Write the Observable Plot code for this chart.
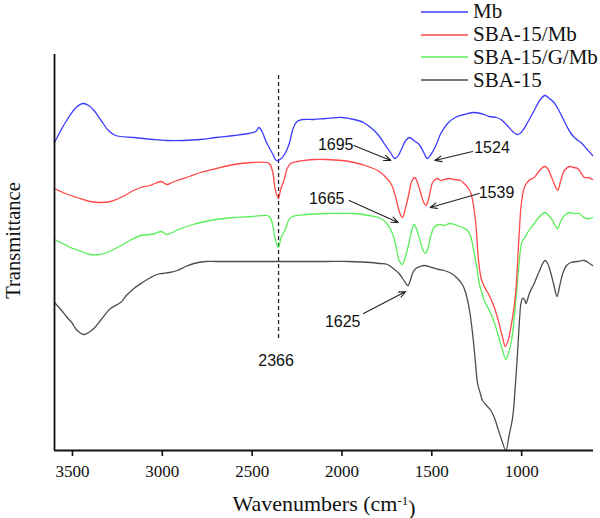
<!DOCTYPE html>
<html>
<head>
<meta charset="utf-8">
<script src="https://cdn.jsdelivr.net/npm/d3@7"></script>
<script src="https://cdn.jsdelivr.net/npm/@observablehq/plot@0.6"></script>
<style>
  html, body { margin: 0; padding: 0; background: #fff; }
  #wrap { position: relative; width: 600px; height: 518px; }
  #legend { position: absolute; left: 421px; top: 0; z-index: 2; font-family: "Liberation Serif", "Times New Roman", serif; font-size: 21px; color: #111; }
  .row { position: absolute; left: 0; height: 24px; display: flex; align-items: center; white-space: nowrap; }
  .row svg { margin-right: 5px; }
</style>
</head>
<body>
<div id="wrap"><div id="legend"></div></div>
<script>
// x tick labels (wavenumbers, cm-1)
const xTicks = [3500, 3000, 2500, 2000, 1500, 1000];
const seriesNames = ["Mb", "SBA-15/Mb", "SBA-15/G/Mb", "SBA-15"];
const seriesColors = ["#3c3cff", "#ff4848", "#5aee5a", "#4d4d4d"];

// [wavenumber, transmittance (arbitrary units)]
const mb = [[3600,308],[3565,320],[3529,331],[3480,343],[3440,347],[3410,345],[3380,340],[3340,330],[3300,320],[3260,315],[3158,313],[3050,311],[2972,310],[2880,310],[2787,311],[2700,313],[2601,315],[2520,317],[2480,319],[2462,323],[2445,319],[2420,308],[2387,297],[2365,290],[2345,291],[2320,296],[2295,306],[2270,323],[2250,329],[2220,331],[2155,331],[2090,332],[2000,333],[1933,331],[1880,328],[1840,323],[1800,316],[1765,307],[1730,298],[1706,292],[1690,294],[1672,300],[1645,310],[1622,313],[1600,310],[1570,306],[1545,298],[1525,292],[1505,296],[1477,305],[1450,317],[1412,327],[1370,333],[1320,336],[1270,338],[1227,337],[1180,334],[1140,333],[1115,331],[1080,325],[1050,319],[1025,316],[1009,317],[990,321],[967,328],[930,340],[900,350],[870,355],[845,352],[820,348],[799,342],[770,332],[745,323],[725,317],[700,312],[670,308],[640,302],[605,295]];

const sbaMb = [[3600,262],[3540,257],[3474,253],[3400,249],[3344,248],[3288,249],[3220,254],[3160,260],[3121,263],[3070,265],[3040,267],[3005,269],[2975,266],[2945,268],[2916,270],[2850,274],[2787,278],[2700,282],[2601,286],[2500,288],[2415,288],[2400,286],[2385,278],[2370,260],[2354,252],[2340,262],[2323,270],[2305,282],[2285,287],[2250,289],[2211,290],[2150,291],[2090,291],[2000,290],[1933,288],[1870,285],[1802,280],[1760,274],[1728,267],[1705,256],[1690,245],[1675,236],[1663,233],[1650,240],[1636,250],[1626,258],[1610,270],[1594,273],[1580,268],[1561,257],[1545,248],[1533,245],[1520,250],[1505,262],[1496,268],[1480,271],[1468,272],[1450,270],[1431,271],[1400,272],[1375,271],[1340,270],[1320,267],[1300,263],[1282,257],[1268,245],[1255,227],[1240,190],[1225,172],[1208,164],[1180,155],[1152,143],[1130,130],[1106,113],[1091,104],[1075,110],[1060,123],[1045,140],[1032,160],[1019,200],[1010,228],[1004,243],[995,255],[985,263],[960,270],[930,273],[900,280],[874,284],[855,282],[837,275],[815,265],[799,260],[785,268],[770,277],[762,280],[734,284],[710,283],[688,282],[670,278],[651,273],[630,273],[605,271]];

const sbaGMb = [[3600,211],[3555,207],[3511,203],[3450,199],[3400,196],[3350,196],[3306,198],[3250,203],[3180,210],[3121,215],[3070,216],[3040,217],[3005,219],[2975,216],[2945,218],[2910,221],[2880,223],[2830,226],[2787,228],[2700,231],[2601,233],[2500,234],[2415,235],[2400,233],[2385,225],[2370,210],[2354,203],[2340,212],[2313,222],[2295,231],[2276,234],[2200,236],[2090,237],[2000,237],[1933,237],[1850,235],[1784,232],[1750,227],[1719,217],[1700,205],[1682,190],[1665,186],[1650,192],[1630,205],[1612,220],[1598,226],[1582,220],[1565,210],[1548,200],[1535,197],[1520,203],[1505,215],[1487,223],[1460,226],[1431,225],[1400,227],[1357,225],[1330,223],[1301,220],[1282,213],[1264,197],[1250,184],[1236,167],[1220,157],[1208,150],[1180,140],[1152,128],[1130,115],[1106,100],[1088,91],[1072,98],[1056,110],[1044,128],[1032,150],[1020,175],[1010,195],[1004,204],[995,210],[982,213],[960,220],[930,227],[900,234],[870,238],[850,235],[827,230],[810,224],[799,222],[785,228],[770,233],[762,235],[734,238],[710,237],[679,237],[660,234],[641,232],[620,232],[605,233]];

const sba15 = [[3600,148],[3565,141],[3529,133],[3500,127],[3483,122],[3460,118],[3437,116],[3410,118],[3381,122],[3340,131],[3288,142],[3232,148],[3200,155],[3158,162],[3110,168],[3065,173],[3030,176],[3000,177],[2960,178],[2916,180],[2870,184],[2824,187],[2760,189],[2694,189],[2500,189],[2300,189],[2090,189],[1960,189],[1840,188],[1790,187],[1747,186],[1715,182],[1682,177],[1655,170],[1640,166],[1632,165],[1620,170],[1605,178],[1589,182],[1565,184],[1543,185],[1500,183],[1460,181],[1431,180],[1390,177],[1357,172],[1330,166],[1310,157],[1290,140],[1273,117],[1258,90],[1245,67],[1230,57],[1218,50],[1195,45],[1171,40],[1150,32],[1134,23],[1110,10],[1088,0],[1070,15],[1050,33],[1035,65],[1022,100],[1012,130],[1004,147],[996,152],[989,152],[982,150],[976,147],[955,158],[930,167],[900,180],[870,190],[855,187],[837,177],[820,165],[803,154],[790,163],[771,177],[750,185],[725,188],[690,189],[651,190],[630,188],[605,185]];

// peak annotations
const peakLabels = [
  {text: "1695", wn: 2035, t: 306},
  {text: "1524", wn: 1165, t: 303},
  {text: "1665", wn: 2085, t: 252},
  {text: "1539", wn: 1140, t: 258},
  {text: "1625", wn: 1996, t: 129},
  {text: "2366", wn: 2367, t: 90}
];
const peakArrows = [
  {wn1: 1934, t1: 305, wn2: 1728, t2: 290},
  {wn1: 1273, t1: 299, wn2: 1483, t2: 290},
  {wn1: 1960, t1: 250, wn2: 1687, t2: 228},
  {wn1: 1236, t1: 257, wn2: 1509, t2: 243},
  {wn1: 1880, t1: 137, wn2: 1645, t2: 159}
];
const markerLine = [{wn: 2353, t1: 112, t2: 375}];

const allSeries = [mb, sbaMb, sbaGMb, sba15];

const lineMarks = allSeries.map((s, i) =>
  Plot.line(s, {x: d => d[0], y: d => d[1], stroke: seriesColors[i], strokeWidth: 1.3, curve: "catmull-rom"})
);

const serif = "'Liberation Serif', 'Times New Roman', serif";

const svg = Plot.plot({
  width: 600,
  height: 518,
  marginTop: 54,
  marginBottom: 68,
  marginLeft: 54,
  marginRight: 7,
  style: {fontFamily: serif, fontSize: "17px", background: "white", color: "#111", overflow: "visible"},
  x: {domain: [3600, 600], ticks: xTicks, tickFormat: () => "", tickSize: 6, label: null},
  y: {domain: [0, 396], axis: null},
  marks: [
    Plot.ruleX(markerLine, {x: "wn", y1: "t1", y2: "t2", stroke: "#222", strokeWidth: 1.3, strokeDasharray: "4,3"}),
    ...lineMarks.reverse(),
    Plot.arrow(peakArrows, {x1: "wn1", y1: "t1", x2: "wn2", y2: "t2", stroke: "#222", strokeWidth: 1.1, headLength: 10, headAngle: 45}),
    Plot.text(peakLabels, {x: "wn", y: "t", text: "text", fontFamily: "'Liberation Sans', Arial, sans-serif", fontSize: 16, fill: "#111"}),
    Plot.ruleX([3600], {stroke: "#111", strokeWidth: 1.8}),
    Plot.ruleY([0], {stroke: "#111", strokeWidth: 1.8}),
    Plot.text(xTicks, {x: d => d, text: d => String(d), frameAnchor: "bottom", dy: 26, lineAnchor: "bottom", textAnchor: "middle", fontFamily: serif, fontSize: 17, fill: "#111"}),
    Plot.text(["Transmittance"], {frameAnchor: "left", dx: -41, dy: -12, rotate: -90, textAnchor: "middle", fontFamily: serif, fontSize: 20.5, fill: "#111"}),
    Plot.text(["Wavenumbers (cm-1)"], {frameAnchor: "bottom", dy: 60, lineAnchor: "bottom", textAnchor: "middle", fontFamily: serif, fontSize: 22, fill: "#111"})
  ]
});

document.getElementById("wrap").appendChild(svg);
svg.style.position = "absolute";
svg.style.left = "0";
svg.style.top = "0";
svg.style.zIndex = "1";

// thicker tick lines
d3.select(svg).selectAll('[aria-label^="x-axis"] line, [aria-label^="x-axis"] path').attr("stroke-width", 1.6).attr("stroke", "#111");

// superscript for cm-1
d3.select(svg).selectAll("text").each(function() {
  if (this.textContent === "Wavenumbers (cm-1)") {
    const t = d3.select(this);
    t.text(null);
    t.append("tspan").text("Wavenumbers (cm");
    t.append("tspan").attr("dy", "-0.45em").attr("font-size", "13px").text("-1");
    t.append("tspan").attr("dy", "0.45em").text(")");
  }
});

// legend overlay
const leg = d3.select("#legend");
seriesNames.forEach((name, i) => {
  const row = leg.append("div").attr("class", "row").style("top", (11.7 + 22.8 * i - 12) + "px");
  const s = row.append("svg").attr("width", 47).attr("height", 4);
  s.append("line").attr("x1", 0).attr("x2", 47).attr("y1", 2).attr("y2", 2).attr("stroke", seriesColors[i]).attr("stroke-width", 1.5);
  row.append("span").text(name);
});
</script>
</body>
</html>
